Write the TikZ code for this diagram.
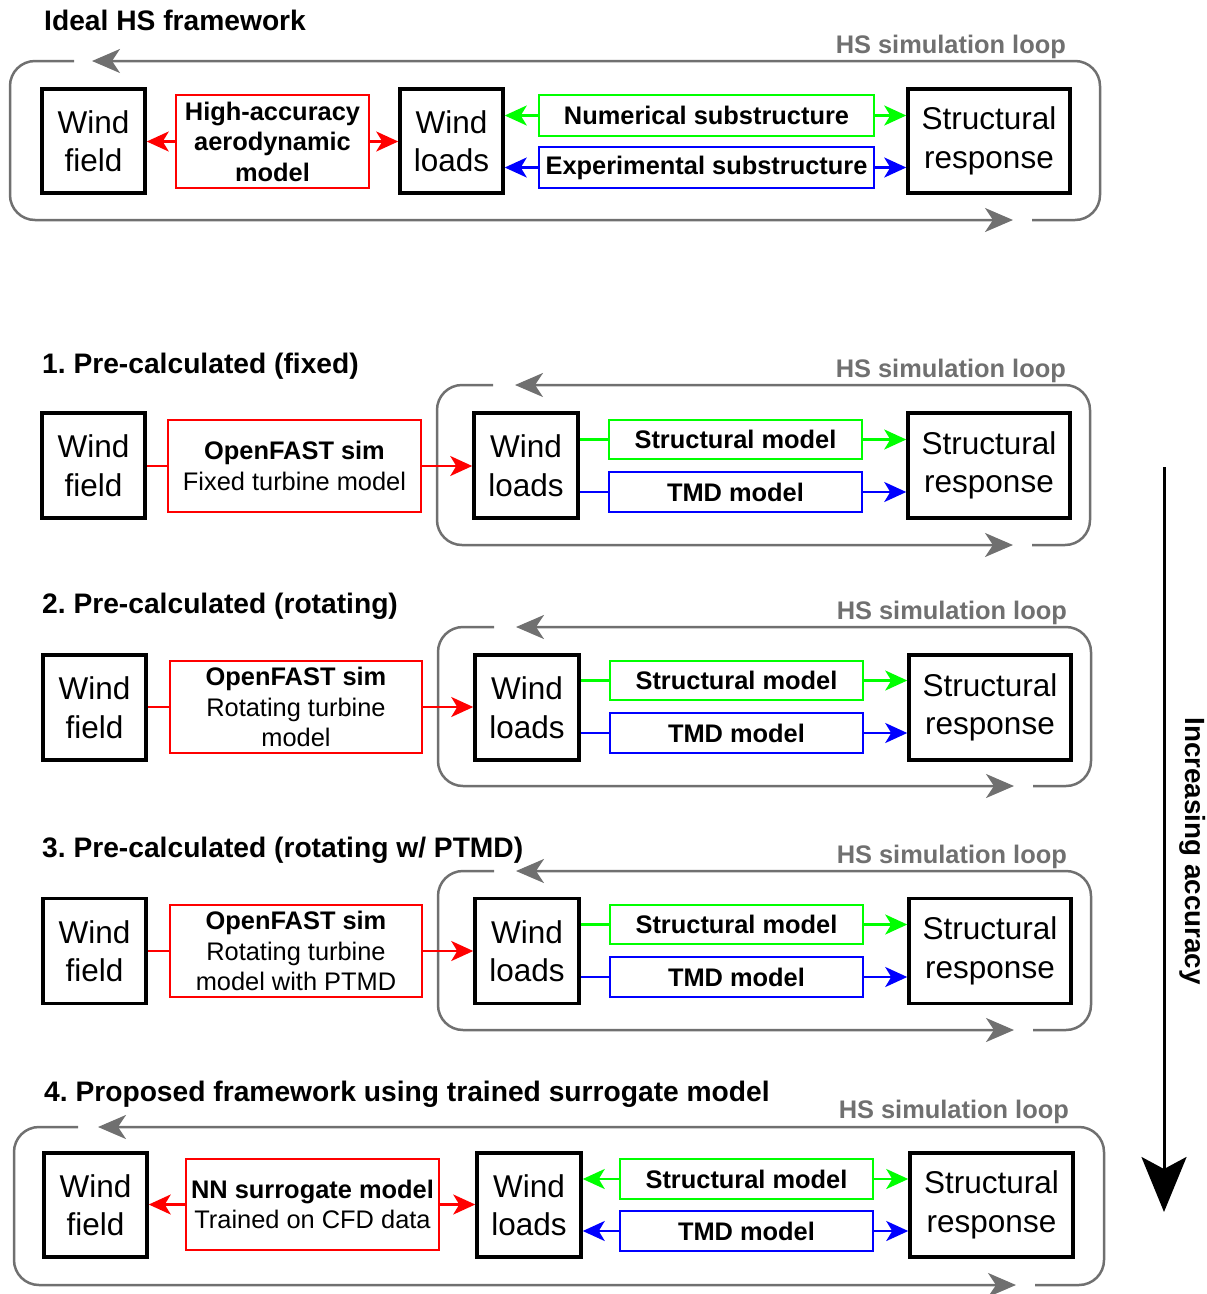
\documentclass[tikz,border=0pt]{standalone}
\usepackage{fontspec}
\setmainfont{Liberation Sans}
\usetikzlibrary{arrows.meta}
\frenchspacing
\definecolor{loopgray}{RGB}{112,112,112}
\definecolor{pgreen}{RGB}{0,255,0}
\definecolor{pblue}{RGB}{0,0,255}
\definecolor{pred}{RGB}{255,0,0}

\tikzset{
  mainbox/.style={draw=black, line width=3.5pt, inner sep=0pt, align=center,
    font=\fontsize{31.5}{38.5}\selectfont, minimum width=103pt, minimum height=104pt},
  srbox/.style={mainbox, minimum width=162pt},
  redbox/.style={draw=pred, line width=2pt, inner sep=0pt, align=center,
    font=\fontsize{25.4}{30.5}\selectfont, minimum width=253pt, minimum height=92pt},
  subbox/.style={line width=2pt, inner sep=0pt,
    font=\bfseries\fontsize{25.4}{30.5}\selectfont, minimum width=253pt, minimum height=40pt},
  grbox/.style={subbox, draw=pgreen},
  blbox/.style={subbox, draw=pblue},
  link/.style={line width=2.5pt},
  redlink/.style={link, draw=pred},
  greenlink/.style={link, draw=pgreen},
  bluelink/.style={link, draw=pblue},
  headed/.style={-{Stealth[length=22pt,width=20pt,inset=6pt]}},
  loopline/.style={draw=loopgray, line width=2.5pt, rounded corners=25pt,
    -{Stealth[length=28pt,width=24pt,inset=8pt]}},
  titletext/.style={anchor=base west, inner sep=0pt, font=\bfseries\fontsize{28.2}{33}\selectfont},
  looptext/.style={anchor=base east, inner sep=0pt, text=loopgray,
    font=\bfseries\fontsize{25.4}{30}\selectfont},
}

% simulation loop frame: left, top, right, bottom, top gap end, top tip, bottom tip, bottom restart
\newcommand\hsloop[8]{%
  \draw[loopline] (#5,#2) -- (#1,#2) -- (#1,#4) -- (#7,#4);
  \draw[loopline] (#8,#4) -- (#3,#4) -- (#3,#2) -- (#6,#2);
}

\begin{document}
\begin{tikzpicture}[x=1pt, y=-1pt]
\useasboundingbox (0,0) rectangle (1207,1294);

% ---------------- Ideal HS framework ----------------
\node[titletext] (t0) at (44,30) {Ideal HS framework};
\node[looptext] (h0) at (1066,53) {HS simulation loop};
\hsloop{10}{61}{1100}{220}{74}{92}{1013}{1032}
\node[mainbox] (wf0) at (93.5,141) {Wind\\field};
\node[redbox, minimum width=193pt, minimum height=93pt, font=\bfseries\fontsize{25.4}{30.5}\selectfont]
  (rb0) at (272.5,141.5) {High-accuracy\\aerodynamic\\model};
\node[mainbox] (wl0) at (451.5,141) {Wind\\loads};
\node[grbox, minimum width=335pt, minimum height=41pt] (gb0) at (706.5,115.5) {Numerical substructure};
\node[blbox, minimum width=335pt, minimum height=41pt] (bb0) at (706.5,167.5) {Experimental substructure};
\node[srbox] (sr0) at (989,141) {Structural\\response};
\draw[redlink, headed] (rb0.west) -- (rb0.west -| wf0.east);
\draw[redlink, headed] (rb0.east) -- (rb0.east -| wl0.west);
\draw[greenlink, headed] (gb0.west) -- (gb0.west -| wl0.east);
\draw[greenlink, headed] (gb0.east) -- (gb0.east -| sr0.west);
\draw[bluelink, headed] (bb0.west) -- (bb0.west -| wl0.east);
\draw[bluelink, headed] (bb0.east) -- (bb0.east -| sr0.west);

% ---------------- 1. Pre-calculated (fixed) ----------------
\node[titletext] (t1) at (42,373) {1. Pre-calculated (fixed)};
\node[looptext] (h1) at (1066,377) {HS simulation loop};
\hsloop{437}{385}{1090}{545}{493}{515}{1013}{1032}
\node[mainbox, minimum height=105pt] (wf1) at (93.5,465.5) {Wind\\field};
\node[redbox] (rb1) at (294.5,466) {\textbf{OpenFAST sim}\\Fixed turbine model};
\node[mainbox, minimum width=104pt, minimum height=105pt] (wl1) at (526,465.5) {Wind\\loads};
\node[grbox, minimum height=39pt] (gb1) at (735.5,439.5) {Structural model};
\node[blbox] (bb1) at (735.5,492) {TMD model};
\node[srbox, minimum height=105pt] (sr1) at (989,465.5) {Structural\\response};
\draw[redlink] (rb1.west -| wf1.east) -- (rb1.west);
\draw[redlink, headed] (rb1.east) -- (rb1.east -| wl1.west);
\draw[greenlink] (gb1.west -| wl1.east) -- (gb1.west);
\draw[greenlink, headed] (gb1.east) -- (gb1.east -| sr1.west);
\draw[bluelink] (bb1.west -| wl1.east) -- (bb1.west);
\draw[bluelink, headed] (bb1.east) -- (bb1.east -| sr1.west);

% ---------------- 2. Pre-calculated (rotating) ----------------
\node[titletext] (t2) at (42,613) {2. Pre-calculated (rotating)};
\node[looptext] (h2) at (1067,619) {HS simulation loop};
\hsloop{438}{627}{1091}{786}{494}{516}{1014}{1033}
\node[mainbox, minimum height=105pt] (wf2) at (94.5,707.5) {Wind\\field};
\node[redbox, minimum width=252pt] (rb2) at (296,707) {\textbf{OpenFAST sim}\\Rotating turbine\\model};
\node[mainbox, minimum width=104pt, minimum height=105pt] (wl2) at (527,707.5) {Wind\\loads};
\node[grbox, minimum height=39pt] (gb2) at (736.5,680.5) {Structural model};
\node[blbox] (bb2) at (736.5,733) {TMD model};
\node[srbox, minimum height=105pt] (sr2) at (990,707.5) {Structural\\response};
\draw[redlink] (rb2.west -| wf2.east) -- (rb2.west);
\draw[redlink, headed] (rb2.east) -- (rb2.east -| wl2.west);
\draw[greenlink] (gb2.west -| wl2.east) -- (gb2.west);
\draw[greenlink, headed] (gb2.east) -- (gb2.east -| sr2.west);
\draw[bluelink] (bb2.west -| wl2.east) -- (bb2.west);
\draw[bluelink, headed] (bb2.east) -- (bb2.east -| sr2.west);

% ---------------- 3. Pre-calculated (rotating w/ PTMD) ----------------
\node[titletext] (t3) at (42,857) {3. Pre-calculated (rotating w/ PTMD)};
\node[looptext] (h3) at (1067,863) {HS simulation loop};
\hsloop{438}{871}{1091}{1030}{494}{516}{1014}{1033}
\node[mainbox, minimum height=105pt] (wf3) at (94.5,951) {Wind\\field};
\node[redbox, minimum width=252pt] (rb3) at (296,951) {\textbf{OpenFAST sim}\\Rotating turbine\\model with PTMD};
\node[mainbox, minimum width=104pt, minimum height=105pt] (wl3) at (527,951) {Wind\\loads};
\node[grbox, minimum height=39pt] (gb3) at (736.5,924.5) {Structural model};
\node[blbox] (bb3) at (736.5,977) {TMD model};
\node[srbox, minimum height=105pt] (sr3) at (990,951) {Structural\\response};
\draw[redlink] (rb3.west -| wf3.east) -- (rb3.west);
\draw[redlink, headed] (rb3.east) -- (rb3.east -| wl3.west);
\draw[greenlink] (gb3.west -| wl3.east) -- (gb3.west);
\draw[greenlink, headed] (gb3.east) -- (gb3.east -| sr3.west);
\draw[bluelink] (bb3.west -| wl3.east) -- (bb3.west);
\draw[bluelink, headed] (bb3.east) -- (bb3.east -| sr3.west);

% ---------------- 4. Proposed framework ----------------
\node[titletext] (t4) at (44,1101) {4. Proposed framework using trained surrogate model};
\node[looptext] (h4) at (1069,1118) {HS simulation loop};
\hsloop{14}{1127}{1104}{1285}{78}{98}{1016}{1035}
\node[mainbox] (wf4) at (95.5,1205) {Wind\\field};
\node[redbox, minimum height=91pt] (rb4) at (312.5,1204.5) {\textbf{NN surrogate model}\\Trained on CFD data};
\node[mainbox, minimum width=104pt] (wl4) at (529,1205) {Wind\\loads};
\node[grbox] (gb4) at (746.5,1179) {Structural model};
\node[blbox] (bb4) at (746.5,1231) {TMD model};
\node[srbox, minimum width=163pt] (sr4) at (991.5,1205) {Structural\\response};
\draw[redlink, headed] (rb4.west) -- (rb4.west -| wf4.east);
\draw[redlink, headed] (rb4.east) -- (rb4.east -| wl4.west);
\draw[greenlink, headed] (gb4.west) -- (gb4.west -| wl4.east);
\draw[greenlink, headed] (gb4.east) -- (gb4.east -| sr4.west);
\draw[bluelink, headed] (bb4.west) -- (bb4.west -| wl4.east);
\draw[bluelink, headed] (bb4.east) -- (bb4.east -| sr4.west);

% ---------------- accuracy axis ----------------
\coordinate (accstart) at (1164,467);
\coordinate (accend) at (1164,1212);
\draw[line width=3pt, -{Stealth[length=55pt,width=45pt,inset=12pt]}] (accstart) -- (accend);
\node[rotate=-90, inner sep=0pt, font=\bfseries\fontsize{27.8}{33}\selectfont] (acc) at (1193,851) {Increasing accuracy};
\end{tikzpicture}
\end{document}
